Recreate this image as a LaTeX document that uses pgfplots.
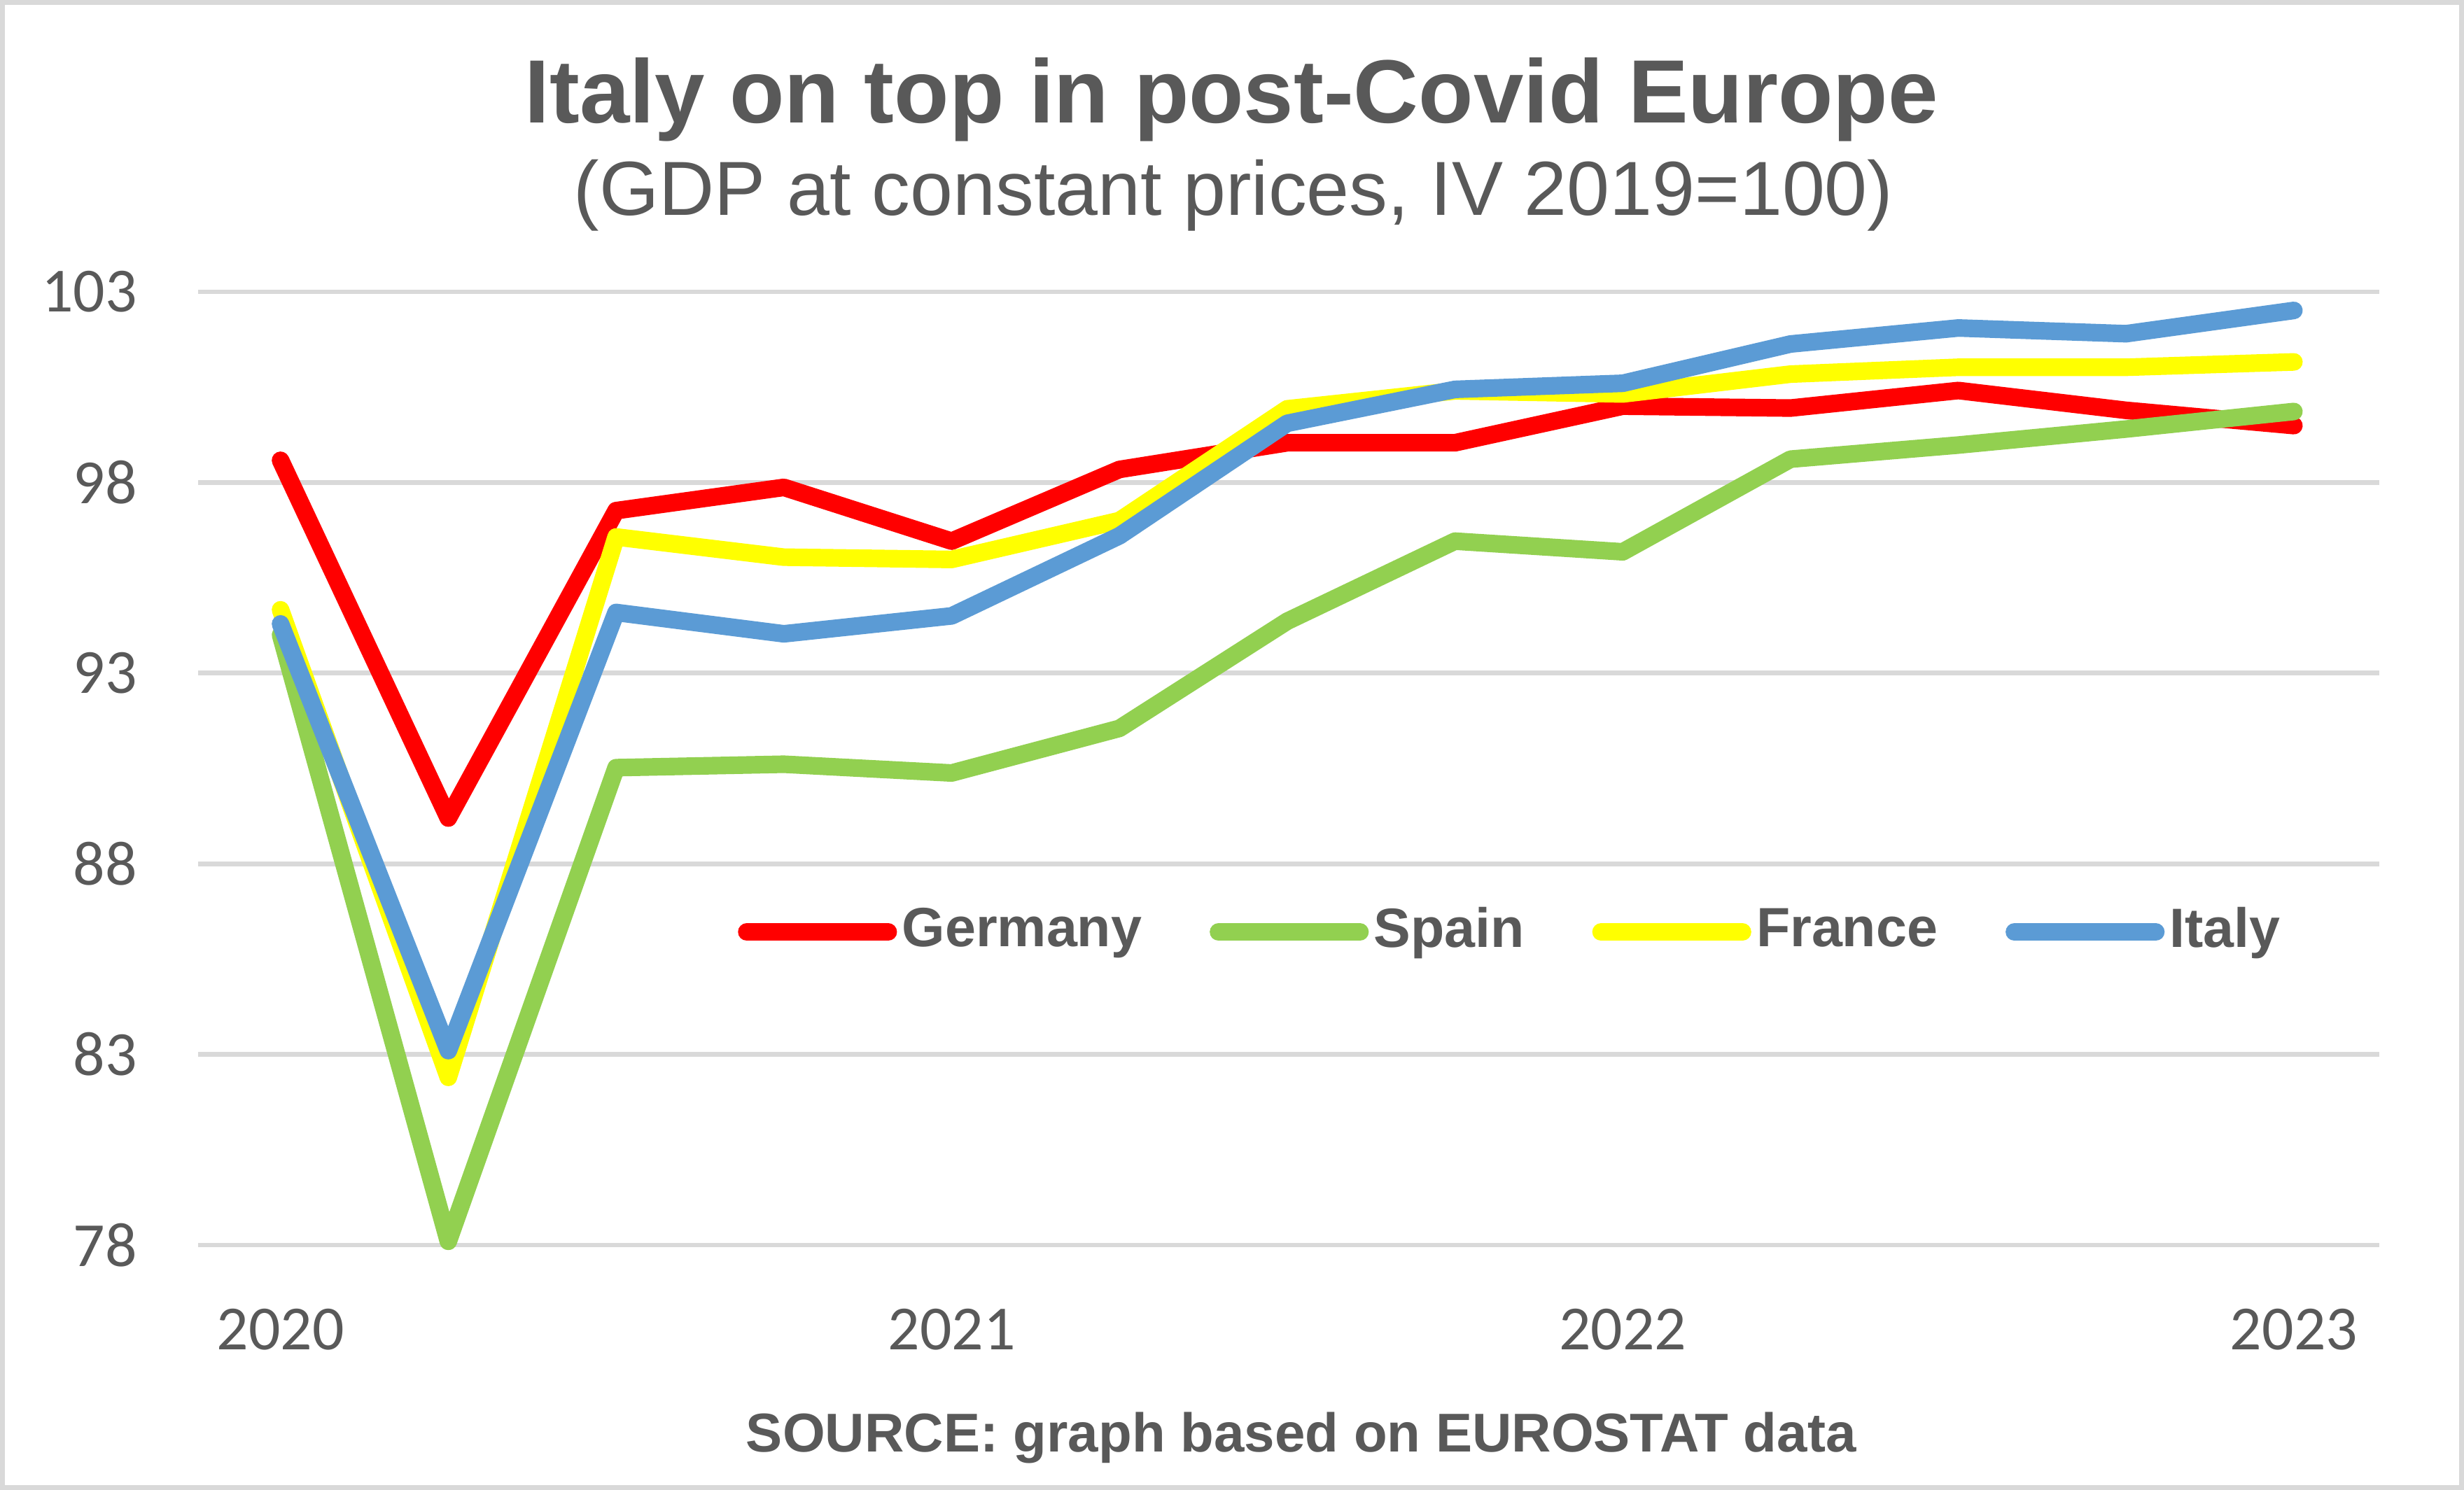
\documentclass[border=0pt]{standalone}
\usepackage{fontspec}
\setmainfont{Liberation Sans}
\newfontfamily\carlito{Carlito}
\usepackage{pgfplots}
\pgfplotsset{compat=1.18}

\definecolor{txtgrey}{HTML}{595959}
\definecolor{gridgrey}{HTML}{D9D9D9}
\definecolor{gerred}{HTML}{FF0000}
\definecolor{espgreen}{HTML}{92D050}
\definecolor{fryellow}{HTML}{FFFF00}
\definecolor{itblue}{HTML}{5B9BD5}

\begin{document}
\begin{tikzpicture}
\path[use as bounding box] (0,0) rectangle (392pt,237.1pt);
\draw[gridgrey, line width=0.8pt] (0.4pt,0.4pt) rectangle (391.6pt,236.7pt);

\node[anchor=base, text=txtgrey, font=\bfseries\fontsize{14.3}{17}\selectfont]
  at (195.9pt,217.6pt) {Italy on top in post-Covid Europe};
\node[anchor=base, text=txtgrey, font=\fontsize{12.2}{14}\selectfont]
  at (196.25pt,202.85pt) {(GDP at constant prices, IV 2019=100)};
\node[anchor=base, text=txtgrey, font=\bfseries\fontsize{8.7}{10}\selectfont]
  at (207pt,6.1pt) {SOURCE: graph based on EUROSTAT data};

\begin{axis}[
  at={(31.5pt,38.97pt)}, anchor=south west,
  scale only axis,
  width=347pt, height=151.7pt,
  xmin=2019.877, xmax=2023.127,
  ymin=78, ymax=103,
  clip=false,
  axis line style={draw=none},
  tick style={draw=none},
  major tick length=0pt,
  ymajorgrids,
  grid style={color=gridgrey, line width=0.75pt},
  xtick={2020,2021,2022,2023},
  xticklabels={2020,2021,2022,2023},
  ytick={78,83,88,93,98,103},
  yticklabels={78,83,88,93,98,103},
  ticklabel style={font=\carlito\fontsize{10}{12}\selectfont, text=txtgrey},
  yticklabel style={anchor=east, inner sep=0pt, xshift=-9.5pt},
  xticklabel style={anchor=north, inner sep=0pt, yshift=-9.9pt},
  every axis plot/.append style={line width=2.8pt, line join=round, line cap=round},
  legend columns=4,
  legend image code/.code={\draw[#1] (0pt,0pt) -- (22.5pt,0pt);},
  legend style={at={(0.6023,0.3284)}, anchor=center, draw=none, fill=none,
    font=\bfseries\fontsize{8.8}{10}\selectfont, text=txtgrey,
    nodes={inner sep=0.8pt},
    /tikz/every even column/.append style={column sep=10pt}},
]
\addplot[gerred] coordinates {
  (2020,98.58) (2020.25,89.2) (2020.5,97.26) (2020.75,97.87)
  (2021,96.46) (2021.25,98.34) (2021.5,99.04) (2021.75,99.04)
  (2022,100.0) (2022.25,99.95) (2022.5,100.41) (2022.75,99.89)
  (2023,99.49)};
\addlegendentry{Germany}
\addplot[espgreen] coordinates {
  (2020,94.0) (2020.25,78.1) (2020.5,90.52) (2020.75,90.61)
  (2021,90.38) (2021.25,91.55) (2021.5,94.36) (2021.75,96.46)
  (2022,96.18) (2022.25,98.61) (2022.5,98.98) (2022.75,99.4)
  (2023,99.86)};
\addlegendentry{Spain}
\addplot[fryellow] coordinates {
  (2020,94.66) (2020.25,82.4) (2020.5,96.57) (2020.75,96.04)
  (2021,95.98) (2021.25,97.0) (2021.5,99.93) (2021.75,100.4)
  (2022,100.32) (2022.25,100.84) (2022.5,101.02) (2022.75,101.02)
  (2023,101.16)};
\addlegendentry{France}
\addplot[itblue] coordinates {
  (2020,94.29) (2020.25,83.1) (2020.5,94.59) (2020.75,94.03)
  (2021,94.5) (2021.25,96.6) (2021.5,99.55) (2021.75,100.44)
  (2022,100.6) (2022.25,101.63) (2022.5,102.05) (2022.75,101.9)
  (2023,102.51)};
\addlegendentry{Italy}
\end{axis}
\end{tikzpicture}
\end{document}
